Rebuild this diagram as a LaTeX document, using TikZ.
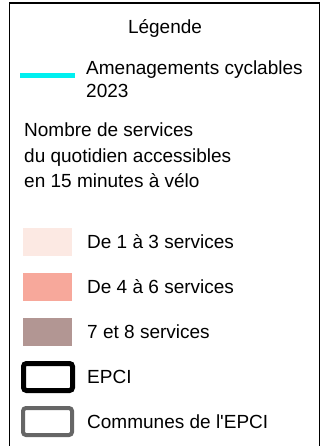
\documentclass[tikz,border=0pt]{standalone}
\usepackage{fontspec}
\setmainfont{Liberation Sans}[Ligatures=TeXOff]
\definecolor{cyclable}{RGB}{0,240,240}
\definecolor{classeA}{RGB}{252,233,227}
\definecolor{classeB}{RGB}{247,168,155}
\definecolor{classeC}{RGB}{178,150,147}
\definecolor{communes}{RGB}{102,102,102}
\tikzset{
  legendtext/.style={anchor=base west, inner sep=0pt, align=left},
  swatch/.style={rectangle, inner sep=0pt, minimum width=49pt, minimum height=28pt},
  outline/.style={rectangle, inner sep=0pt, minimum width=49pt, minimum height=27pt, rounded corners=3pt}
}
\begin{document}
\begin{tikzpicture}[x=1pt,y=-1pt,font=\fontsize{19}{25.3}\selectfont]
  \useasboundingbox (0,0) rectangle (326,446);
  \draw[line width=1.5pt] (9.5,450) -- (9.5,3) -- (319.5,3) -- (319.5,450);
  \node[anchor=base, inner sep=0pt] (titre) at (165,33.3) {Légende};
  \coordinate (cyc1) at (20,75.5);
  \coordinate (cyc2) at (75,75.5);
  \draw[cyclable, line width=5.5pt] (cyc1) -- (cyc2);
  \node[legendtext, font=\fontsize{19}{22.3}\selectfont] (cyc) at (86,97.3) {Amenagements cyclables\\2023};
  \node[legendtext] (nombre) at (24,187.3) {Nombre de services\\du quotidien accessibles\\en 15 minutes à vélo};
  \node[swatch, fill=classeA] (sA) at (47.5,242) {};
  \node[swatch, fill=classeB] (sB) at (47.5,287) {};
  \node[swatch, fill=classeC] (sC) at (47.5,332) {};
  \node[outline, draw=black, line width=5pt] (sE) at (48,377) {};
  \node[outline, draw=communes, line width=4pt] (sM) at (47.5,421.5) {};
  \node[legendtext] (tA) at (87,248.3) {De 1 à 3 services};
  \node[legendtext] (tB) at (87,293.3) {De 4 à 6 services};
  \node[legendtext] (tC) at (87,338.3) {7 et 8 services};
  \node[legendtext] (tE) at (87,383.3) {EPCI};
  \node[legendtext] (tM) at (87,428.3) {Communes de l'EPCI};
\end{tikzpicture}
\end{document}
